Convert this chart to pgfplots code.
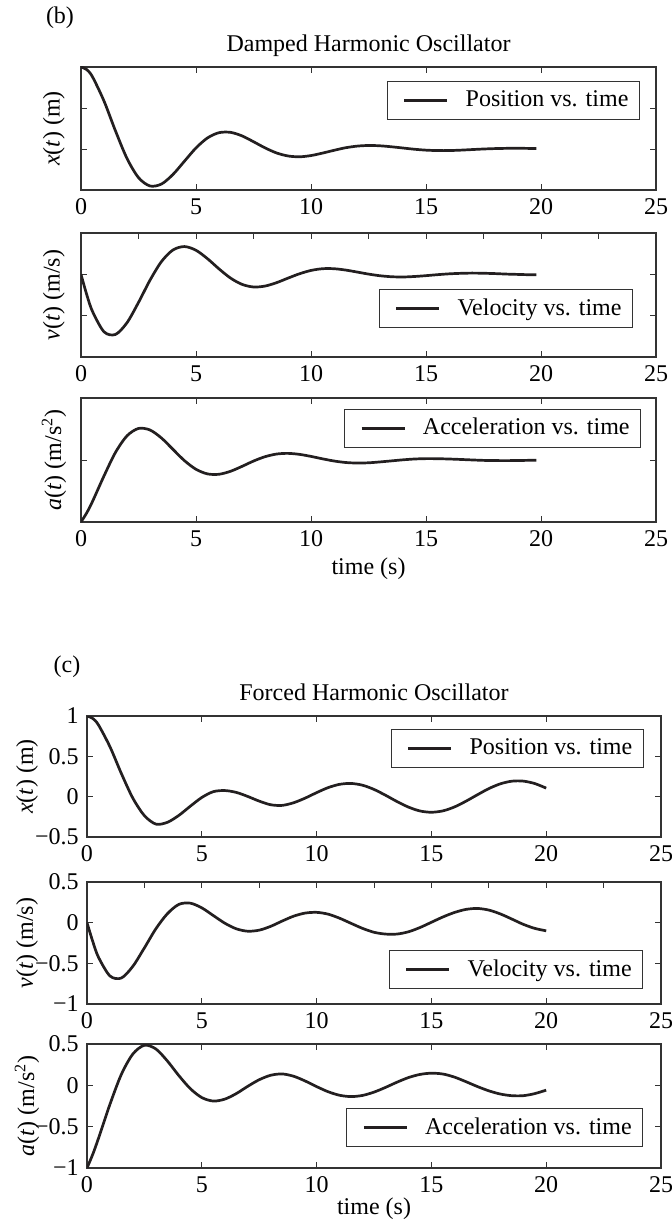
\documentclass[border=0pt]{standalone}
\usepackage{fontspec}
\setmainfont{Liberation Serif}
\usepackage{pgfplots}
\pgfplotsset{compat=1.18}
\definecolor{curve}{HTML}{231F20}
\definecolor{axc}{HTML}{333333}
\pgfplotsset{
  osc/.style={
    scale only axis, width=287.5pt,
    xmin=0, xmax=25, xtick={0,5,10,15,20,25}, xticklabels={0,5,10,15,20,25},
    tick align=inside, major tick length=3pt,
    tick style={draw=axc, line width=0.5pt},
    axis line style={draw=axc, line width=0.65pt},
    every tick label/.append style={font=\fontsize{12}{14}\selectfont},
    label style={font=\fontsize{12}{14}\selectfont},
    legend image code/.code={\path (0pt,0pt); \draw[##1] (2.4pt,0pt) -- (23.9pt,0pt);},
    legend style={draw=axc, line width=0.5pt, inner xsep=5.5pt, inner ysep=4pt, column sep=8.5pt,
      font=\fontsize{12}{14}\selectfont,
      nodes={inner sep=0pt, text height=8.65pt, text depth=2.15pt}},
    legend cell align=left,
  },
  crv/.style={draw=curve, line width=1.35pt, smooth, mark=none},
}
\begin{document}
\fontsize{12}{14.4}\selectfont
\begin{tikzpicture}
\useasboundingbox (0,0) rectangle (336pt,-613pt);
\node at (30pt,-9pt) {(b)};
\node at (184.25pt,-23pt) {Damped Harmonic Oscillator};
\node at (33.5pt,-333.5pt) {(c)};
\node at (187pt,-346pt) {Forced Harmonic Oscillator};

% ---------- (b) position
\begin{axis}[osc, at={(40.5pt,-95pt)}, anchor=south west, height=61.5pt,
  ymin=-0.5, ymax=1, ytick={-0.5,0,0.5,1}, yticklabels={},
  ylabel={\textit{x}(\textit{t}) (m)},
  ylabel style={at={(axis description cs:-0.047,0.5)}, anchor=center},
  legend style={at={(axis description cs:0.972,0.886)}, anchor=north east}]
\addplot[crv] coordinates {
(0,1) (0.25,0.968) (0.5,0.880) (1,0.585) (1.5,0.220) (2,-0.115) (2.5,-0.349) (3,-0.451) (3.5,-0.427)
(4,-0.310) (4.5,-0.148) (5,0.013) (5.5,0.135) (6,0.199) (6.5,0.203) (7,0.160) (7.5,0.089)
(8,0.014) (8.5,-0.048) (9,-0.085) (9.5,-0.095) (10,-0.080) (10.5,-0.050) (11,-0.016) (11.5,0.015)
(12,0.035) (12.5,0.043) (13,0.039) (13.5,0.027) (14,0.012) (14.5,-0.003) (15,-0.014) (15.5,-0.019)
(16,-0.019) (16.5,-0.014) (17,-0.007) (17.5,0.000) (18,0.005) (18.5,0.008) (19,0.009) (19.5,0.007) (19.8,0.006)};
\addlegendentry{Position vs. time}
\end{axis}

% ---------- (b) velocity
\begin{axis}[osc, at={(40.5pt,-178.5pt)}, anchor=south west, height=62pt,
  ymin=-1, ymax=0.5, ytick={-1,-0.5,0,0.5}, yticklabels={},
  extra x ticks={2.5,7.5,12.5,17.5,22.5}, extra x tick labels={}, extra x tick style={xtick pos=right},
  ylabel={\textit{v}(\textit{t}) (m/s)},
  ylabel style={at={(axis description cs:-0.047,0.5)}, anchor=center},
  legend style={at={(axis description cs:0.96,0.234)}, anchor=south east}]
\addplot[crv] coordinates {
(0,0) (0.25,-0.246) (0.5,-0.449) (1,-0.695) (1.5,-0.727) (2,-0.585) (2.5,-0.340) (3,-0.071) (3.5,0.155)
(4,0.295) (4.5,0.336) (5,0.291) (5.5,0.189) (6,0.066) (6.5,-0.045) (7,-0.121) (7.5,-0.153)
(8,-0.142) (8.5,-0.101) (9,-0.046) (9.5,0.007) (10,0.047) (10.5,0.068) (11,0.068) (11.5,0.052)
(12,0.028) (12.5,0.003) (13,-0.017) (13.5,-0.029) (14,-0.032) (14.5,-0.026) (15,-0.016) (15.5,-0.004)
(16,0.006) (16.5,0.012) (17,0.015) (17.5,0.013) (18,0.009) (18.5,0.003) (19,-0.001) (19.5,-0.005) (19.8,-0.006)};
\addlegendentry{Velocity vs. time}
\end{axis}

% ---------- (b) acceleration
\begin{axis}[osc, at={(40.5pt,-261pt)}, anchor=south west, height=62pt,
  ymin=-1, ymax=1, ytick={-1,0,1}, yticklabels={},
  ylabel={\textit{a}(\textit{t}) (m/s\textsuperscript{2})},
  ylabel style={at={(axis description cs:-0.047,0.5)}, anchor=center},
  xlabel={time (s)},
  xlabel style={at={(axis description cs:0.5,-0.379)}, anchor=center},
  legend style={at={(axis description cs:0.974,0.911)}, anchor=north east}]
\addplot[crv] coordinates {
(0,-1) (0.25,-0.852) (0.5,-0.669) (1,-0.257) (1.5,0.123) (2,0.390) (2.5,0.509) (3,0.484) (3.5,0.354)
(4,0.171) (4.5,-0.011) (5,-0.150) (5.5,-0.224) (6,-0.230) (6.5,-0.182) (7,-0.103) (7.5,-0.017)
(8,0.053) (8.5,0.096) (9,0.107) (9.5,0.091) (10,0.058) (10.5,0.019) (11,-0.016) (11.5,-0.040)
(12,-0.049) (12.5,-0.045) (13,-0.031) (13.5,-0.014) (14,0.003) (14.5,0.016) (15,0.022) (15.5,0.021)
(16,0.016) (16.5,0.009) (17,0.001) (17.5,-0.006) (18,-0.009) (18.5,-0.010) (19,-0.008) (19.5,-0.005) (19.8,-0.003)};
\addlegendentry{Acceleration vs. time}
\end{axis}

% ---------- (c) position
\begin{axis}[osc, at={(43.5pt,-418.5pt)}, anchor=south west, width=287pt, height=60.5pt,
  ymin=-0.5, ymax=1, ytick={-0.5,0,0.5,1}, yticklabels={−0.5,0,0.5,1},
  ylabel={\textit{x}(\textit{t}) (m)},
  ylabel style={at={(axis description cs:-0.1045,0.5)}, anchor=center},
  legend style={at={(axis description cs:0.970,0.893)}, anchor=north east}]
\addplot[crv] coordinates {
(0,1) (0.25,0.970) (0.5,0.889) (1,0.619) (1.5,0.285) (2,-0.020) (2.5,-0.235) (3,-0.340) (3.5,-0.318)
(4,-0.232) (4.5,-0.118) (5,-0.010) (5.5,0.062) (6,0.076) (6.5,0.053) (7,0.003) (7.5,-0.055)
(8,-0.100) (8.5,-0.108) (9,-0.075) (9.5,-0.018) (10,0.050) (10.5,0.112) (11,0.153) (11.5,0.164)
(12,0.142) (12.5,0.090) (13,0.018) (13.5,-0.060) (14,-0.129) (14.5,-0.177) (15,-0.193) (15.5,-0.176)
(16,-0.128) (16.5,-0.057) (17,0.023) (17.5,0.100) (18,0.159) (18.5,0.192) (19,0.193) (19.5,0.163) (20,0.106)};
\addlegendentry{Position vs. time}
\end{axis}

% ---------- (c) velocity
\begin{axis}[osc, at={(43.5pt,-502pt)}, anchor=south west, width=287pt, height=61pt,
  ymin=-1, ymax=0.5, ytick={-1,-0.5,0,0.5}, yticklabels={−1,−0.5,0,0.5},
  extra x ticks={2.5,7.5,12.5,17.5,22.5}, extra x tick labels={}, extra x tick style={xtick pos=right},
  ylabel={\textit{v}(\textit{t}) (m/s)},
  ylabel style={at={(axis description cs:-0.1045,0.5)}, anchor=center},
  legend style={at={(axis description cs:0.969,0.123)}, anchor=south east}]
\addplot[crv] coordinates {
(0,0) (0.25,-0.230) (0.5,-0.425) (1,-0.655) (1.5,-0.680) (2,-0.535) (2.5,-0.310) (3,-0.075) (3.5,0.110)
(4,0.225) (4.5,0.240) (5,0.182) (5.5,0.088) (6,-0.006) (6.5,-0.075) (7,-0.105) (7.5,-0.092)
(8,-0.045) (8.5,0.020) (9,0.080) (9.5,0.118) (10,0.127) (10.5,0.105) (11,0.055) (11.5,-0.008)
(12,-0.070) (12.5,-0.118) (13,-0.140) (13.5,-0.140) (14,-0.112) (14.5,-0.060) (15,0.005) (15.5,0.070)
(16,0.125) (16.5,0.163) (17,0.175) (17.5,0.155) (18,0.108) (18.5,0.045) (19,-0.020) (19.5,-0.070) (20,-0.100)};
\addlegendentry{Velocity vs. time}
\end{axis}

% ---------- (c) acceleration
\begin{axis}[osc, at={(43.5pt,-584pt)}, anchor=south west, width=287pt, height=62pt,
  ymin=-1, ymax=0.5, ytick={-1,-0.5,0,0.5}, yticklabels={−1,−0.5,0,0.5},
  ylabel={\textit{a}(\textit{t}) (m/s\textsuperscript{2})},
  ylabel style={at={(axis description cs:-0.1045,0.5)}, anchor=center},
  xlabel={time (s)},
  xlabel style={at={(axis description cs:0.5,-0.33)}, anchor=center},
  legend style={at={(axis description cs:0.969,0.17)}, anchor=south east}]
\addplot[crv] coordinates {
(0,-1) (0.25,-0.835) (0.5,-0.641) (1,-0.229) (1.5,0.135) (2,0.380) (2.5,0.485) (3,0.440) (3.5,0.295)
(4,0.118) (4.5,-0.040) (5,-0.148) (5.5,-0.190) (6,-0.167) (6.5,-0.100) (7,-0.012) (7.5,0.068)
(8,0.122) (8.5,0.138) (9,0.110) (9.5,0.053) (10,-0.015) (10.5,-0.077) (11,-0.120) (11.5,-0.136)
(12,-0.122) (12.5,-0.082) (13,-0.025) (13.5,0.038) (14,0.094) (14.5,0.132) (15,0.147) (15.5,0.137)
(16,0.100) (16.5,0.045) (17,-0.014) (17.5,-0.066) (18,-0.105) (18.5,-0.125) (19,-0.125) (19.5,-0.100) (20,-0.058)};
\addlegendentry{Acceleration vs. time}
\end{axis}
\end{tikzpicture}
\end{document}
